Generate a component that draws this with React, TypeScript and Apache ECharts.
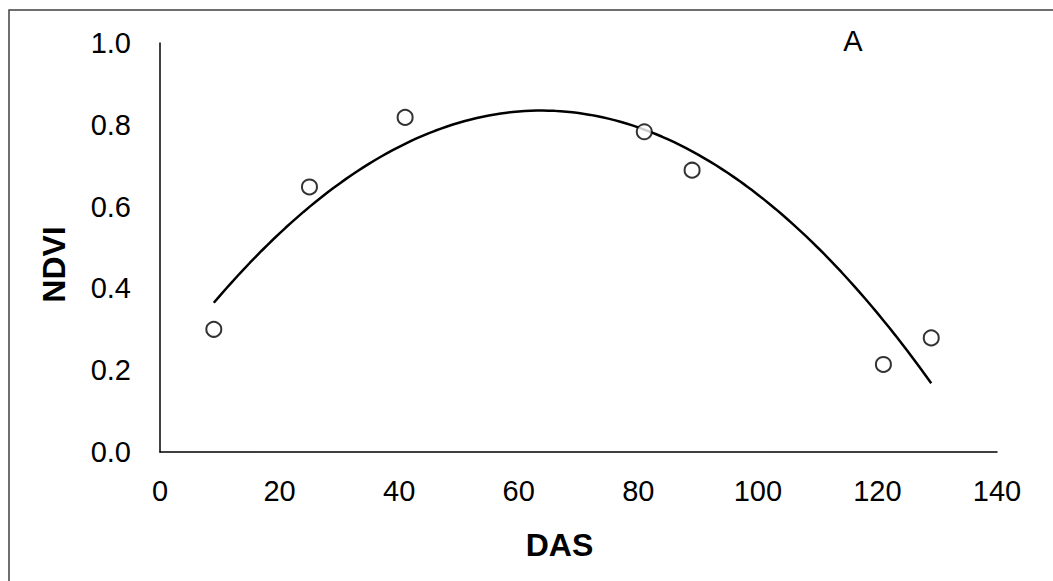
import React, { useEffect, useRef } from "react";
import * as echarts from "echarts";

// Observed data (DAS vs NDVI)
const dasValues: number[] = [9, 25, 41, 81, 89, 121, 129];
const ndviValues: number[] = [0.3, 0.648, 0.818, 0.783, 0.689, 0.214, 0.279];

// Axis ranges / ticks
const xTicks: number[] = [0, 20, 40, 60, 80, 100, 120, 140];
const yTicks: number[] = [0, 0.2, 0.4, 0.6, 0.8, 1.0];
const panelLabel = "A";

// Least-squares 2nd-order polynomial trendline (as in a spreadsheet trendline)
function quadFit(xs: number[], ys: number[]): [number, number, number] {
  const s = [0, 0, 0, 0, 0];
  const t = [0, 0, 0];
  for (let i = 0; i < xs.length; i++) {
    let p = 1;
    for (let k = 0; k < 5; k++) {
      s[k] += p;
      if (k < 3) t[k] += p * ys[i];
      p *= xs[i];
    }
  }
  const m = [
    [s[0], s[1], s[2], t[0]],
    [s[1], s[2], s[3], t[1]],
    [s[2], s[3], s[4], t[2]],
  ];
  for (let c = 0; c < 3; c++) {
    let piv = c;
    for (let r = c + 1; r < 3; r++) if (Math.abs(m[r][c]) > Math.abs(m[piv][c])) piv = r;
    [m[c], m[piv]] = [m[piv], m[c]];
    for (let r = 0; r < 3; r++) {
      if (r === c) continue;
      const f = m[r][c] / m[c][c];
      for (let k = c; k < 4; k++) m[r][k] -= f * m[c][k];
    }
  }
  return [m[0][3] / m[0][0], m[1][3] / m[1][1], m[2][3] / m[2][2]];
}

export default function App() {
  const ref = useRef<HTMLDivElement>(null);
  useEffect(() => {
    if (!ref.current) return;
    const chart = echarts.init(ref.current, undefined, { renderer: "svg" });
    const [c0, c1, c2] = quadFit(dasValues, ndviValues);
    const xMin = Math.min(...dasValues);
    const xMax = Math.max(...dasValues);
    const trend: [number, number][] = [];
    for (let x = xMin; x <= xMax; x += 1) trend.push([x, c0 + c1 * x + c2 * x * x]);

    const font = "'Liberation Sans', Arial, sans-serif";
    chart.setOption({
      animation: false,
      backgroundColor: "#ffffff",
      grid: { left: 160, right: 56, top: 43, bottom: 129, containLabel: false },
      xAxis: {
        type: "value",
        min: xTicks[0],
        max: xTicks[xTicks.length - 1],
        interval: xTicks[1] - xTicks[0],
        name: "DAS",
        nameLocation: "middle",
        nameGap: 77,
        nameTextStyle: {
          fontFamily: font,
          fontSize: 32,
          fontWeight: "bold",
          color: "#000",
          padding: [0, 38, 0, 0],
        },
        axisLine: { show: true, lineStyle: { color: "#000", width: 1.5 } },
        axisTick: { show: false },
        splitLine: { show: false },
        axisLabel: { fontFamily: font, fontSize: 29, color: "#000", margin: 24 },
      },
      yAxis: {
        type: "value",
        min: yTicks[0],
        max: yTicks[yTicks.length - 1],
        interval: 0.2,
        name: "NDVI",
        nameLocation: "middle",
        nameGap: 90,
        nameTextStyle: {
          fontFamily: font,
          fontSize: 32,
          fontWeight: "bold",
          color: "#000",
          padding: [0, 34, 0, 0],
        },
        axisLine: { show: true, lineStyle: { color: "#000", width: 1.5 } },
        axisTick: { show: false },
        splitLine: { show: false },
        axisLabel: {
          fontFamily: font,
          fontSize: 29,
          color: "#000",
          margin: 29,
          formatter: (v: number) => v.toFixed(1),
        },
      },
      series: [
        {
          type: "line",
          data: trend,
          showSymbol: false,
          smooth: false,
          lineStyle: { color: "#000", width: 2.5 },
          z: 2,
        },
        {
          type: "scatter",
          data: dasValues.map((x, i) => [x, ndviValues[i]]),
          symbol: "circle",
          symbolSize: 15,
          itemStyle: { color: "#fff", borderColor: "#000", borderWidth: 2 },
          z: 3,
        },
      ],
      graphic: [
        {
          type: "rect",
          shape: { x: 9, y: 10, width: 1200, height: 800 },
          style: { fill: "none", stroke: "#404040", lineWidth: 1.5 },
          silent: true,
        },
        {
          type: "text",
          x: 853,
          y: 41,
          style: {
            text: panelLabel,
            fontFamily: font,
            fontSize: 29,
            fill: "#000",
            align: "center",
            verticalAlign: "middle",
          },
        },
      ],
    });
    return () => chart.dispose();
  }, []);
  return (
    <div
      ref={ref}
      style={{ position: "fixed", left: 0, top: 0, width: 1053, height: 581, background: "#fff" }}
    />
  );
}
